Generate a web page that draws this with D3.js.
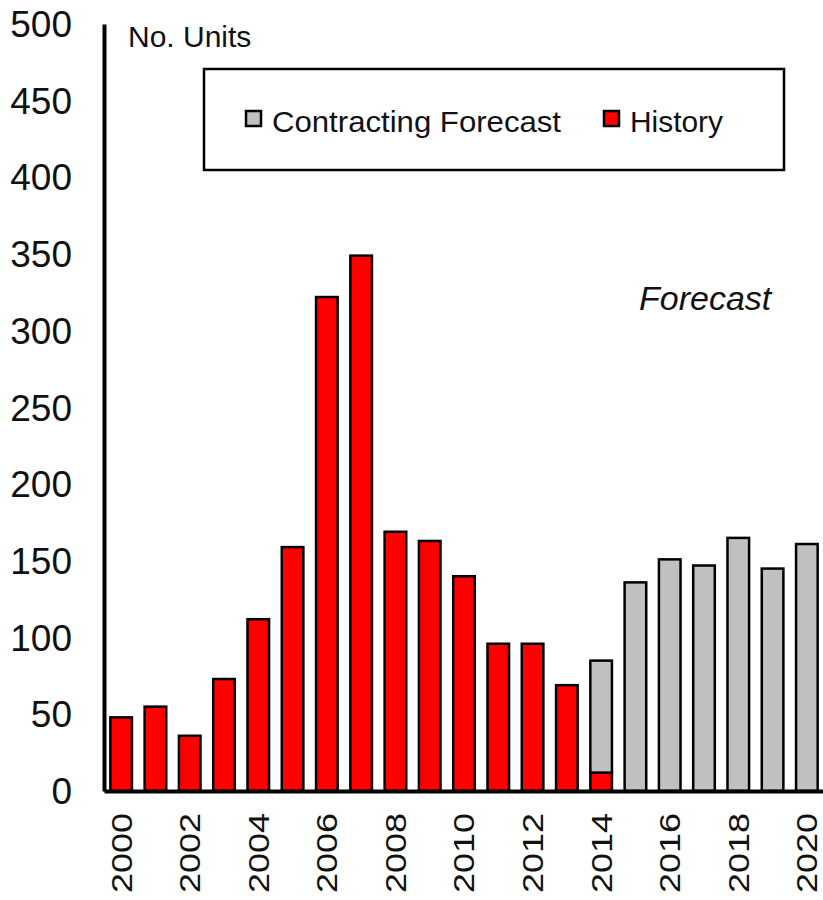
<!DOCTYPE html>
<html><head><meta charset="utf-8">
<script src="https://cdn.jsdelivr.net/npm/d3@7/dist/d3.min.js"></script>
<style>body{margin:0;background:#fff}svg{display:block}</style>
</head><body><svg id="c" width="823" height="900"></svg>
<script>
const years = [2000,2001,2002,2003,2004,2005,2006,2007,2008,2009,2010,2011,2012,2013,2014,2015,2016,2017,2018,2019,2020];
const historyValues = [48,55,36,73,112,159,322,349,169,163,140,96,96,69,12,0,0,0,0,0,0];
const forecastValues = [0,0,0,0,0,0,0,0,0,0,0,0,0,0,73,136,151,147,165,145,161];
const yTicks = [0,50,100,150,200,250,300,350,400,450,500];
const xTickLabels = [2000,2002,2004,2006,2008,2010,2012,2014,2016,2018,2020];
const seriesNames = ["Contracting Forecast","History"];
const colors = {"Contracting Forecast":"#c0c0c0","History":"#ff0000"};

const svg = d3.select("#c");
const font = "'Liberation Sans', Arial, sans-serif";
const mLeft = 104, mRight = 824, mTop = 24, mBottom = 791;
const x = d3.scaleBand().domain(years).range([mLeft, mRight]).paddingInner(0.37).paddingOuter(0.185);
const y = d3.scaleLinear().domain([0,500]).range([mBottom, mTop]);

// bars
const g = svg.append("g");
years.forEach((yr,i)=>{
  const h = historyValues[i], f = forecastValues[i];
  if (h > 0) g.append("rect").attr("x", x(yr)).attr("width", x.bandwidth())
    .attr("y", y(h)).attr("height", y(0)-y(h)).attr("fill", colors["History"])
    .attr("stroke","#000").attr("stroke-width",2.5);
  if (f > 0) g.append("rect").attr("x", x(yr)).attr("width", x.bandwidth())
    .attr("y", y(h+f)).attr("height", y(h)-y(h+f)).attr("fill", colors["Contracting Forecast"])
    .attr("stroke","#000").attr("stroke-width",2.5);
});

// y axis
const yAxis = d3.axisLeft(y).tickValues(yTicks).tickSize(0).tickPadding(32);
const ya = svg.append("g").attr("transform",`translate(${mLeft},0)`).call(yAxis);
ya.select(".domain").attr("stroke","#000").attr("stroke-width",4);
ya.selectAll("text").attr("font-family",font).attr("font-size",37).attr("fill","#111").attr("dy","0.34em");

// x axis
const xAxis = d3.axisBottom(x).tickValues(xTickLabels).tickSize(0).tickPadding(0);
const xa = svg.append("g").attr("transform",`translate(0,${mBottom})`).call(xAxis);
xa.select(".domain").attr("stroke","#000").attr("stroke-width",4);
xa.selectAll("text").attr("font-family",font).attr("font-size",29).attr("fill","#111")
  .attr("transform","rotate(-90)").attr("text-anchor","end").attr("x",-22).attr("y",0).attr("dy","0.36em")
  .attr("textLength",80).attr("lengthAdjust","spacingAndGlyphs");

// unit label
svg.append("text").attr("x",128).attr("y",47).attr("font-family",font).attr("font-size",30).attr("fill","#111").text("No. Units");

// legend
svg.append("rect").attr("x",204).attr("y",69).attr("width",580).attr("height",101).attr("fill","#fff").attr("stroke","#000").attr("stroke-width",2.5);
const legItems = [{name:seriesNames[0], sx:246, tx:272, len:289},{name:seriesNames[1], sx:604, tx:630, len:93}];
legItems.forEach(d=>{
  svg.append("rect").attr("x",d.sx).attr("y",111).attr("width",15).attr("height",15).attr("fill",colors[d.name]).attr("stroke","#000").attr("stroke-width",2.5);
  svg.append("text").attr("x",d.tx).attr("y",132).attr("font-family",font).attr("font-size",30).attr("fill","#111")
    .attr("textLength",d.len).attr("lengthAdjust","spacingAndGlyphs").text(d.name);
});

// forecast annotation
svg.append("text").attr("x",639).attr("y",310).attr("font-family",font).attr("font-size",34).attr("font-style","italic").attr("fill","#111").text("Forecast");
</script></body></html>
